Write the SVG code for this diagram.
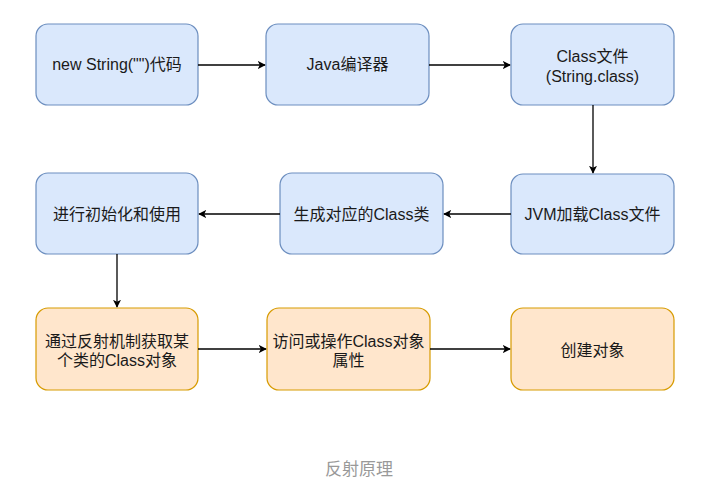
<svg xmlns="http://www.w3.org/2000/svg" width="706" height="487" viewBox="0 0 706 487">
<style>
.b{fill:#dae8fc;stroke:#6c8ebf;stroke-width:1.2}
.o{fill:#ffe6cc;stroke:#d79b00;stroke-width:1.2}
text{font-family:"Liberation Sans","Noto Sans CJK SC",sans-serif;font-size:16px;fill:#1a1a1a;text-anchor:middle}
.c line{stroke:#000;stroke-width:1.3;marker-end:url(#a)}
</style>
<defs>
<marker id="a" viewBox="0 0 10 10" refX="9" refY="5" markerWidth="8" markerHeight="8" markerUnits="userSpaceOnUse" orient="auto">
<path d="M0,0 L10,5 L0,10 L2.5,5 Z" fill="#000"/>
</marker>
</defs>
<rect width="706" height="487" fill="#fff"/>
<g id="n1"><rect class="b" x="36" y="24" width="162" height="81" rx="12"/><text x="117" y="70">new String("")代码</text></g>
<g id="n2"><rect class="b" x="266" y="24" width="163" height="81" rx="12"/><text x="347.5" y="70">Java编译器</text></g>
<g id="n3"><rect class="b" x="511" y="24" width="163" height="81" rx="12"/><text x="592.5" y="62">Class文件</text><text x="592.5" y="82">(String.class)</text></g>
<g id="n6"><rect class="b" x="511" y="174" width="163" height="80" rx="12"/><text x="592.5" y="220">JVM加载Class文件</text></g>
<g id="n5"><rect class="b" x="280" y="173" width="163" height="81" rx="12"/><text x="361.5" y="220">生成对应的Class类</text></g>
<g id="n4"><rect class="b" x="36" y="173" width="162" height="81" rx="12"/><text x="117" y="220">进行初始化和使用</text></g>
<g id="n7"><rect class="o" x="36" y="308" width="162" height="82" rx="12"/><text x="117" y="347">通过反射机制获取某</text><text x="117" y="366">个类的Class对象</text></g>
<g id="n8"><rect class="o" x="267" y="308" width="163" height="82" rx="12"/><text x="348.5" y="347">访问或操作Class对象</text><text x="348.5" y="366">属性</text></g>
<g id="n9"><rect class="o" x="511" y="308" width="163" height="82" rx="12"/><text x="592.5" y="356">创建对象</text></g>
<g class="c" id="connectors">
<line x1="198" y1="65" x2="265" y2="65"/>
<line x1="429" y1="65" x2="510" y2="65"/>
<line x1="593" y1="105" x2="593" y2="173"/>
<line x1="511" y1="214" x2="444" y2="214"/>
<line x1="280" y1="214" x2="199" y2="214"/>
<line x1="117" y1="254" x2="117" y2="307"/>
<line x1="198" y1="349" x2="266" y2="349"/>
<line x1="430" y1="349" x2="510" y2="349"/>
</g>
<text x="359" y="475" style="font-size:17px;fill:#999">反射原理</text>
</svg>
